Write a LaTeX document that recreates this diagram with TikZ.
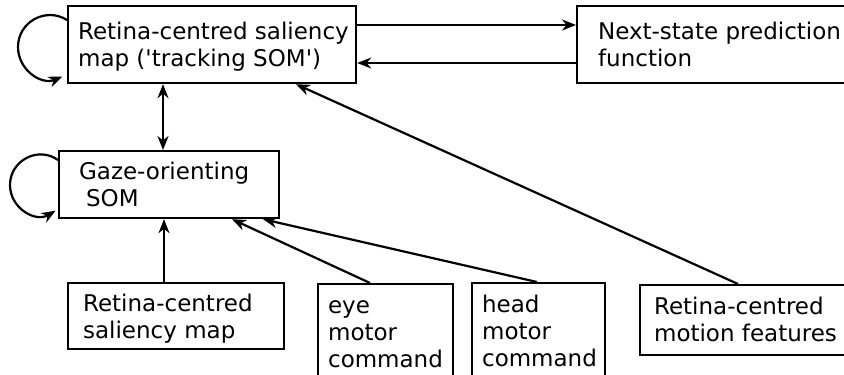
\documentclass[tikz,border=0pt]{standalone}
\usepackage{fontspec}
\setmainfont{DejaVu Sans}
\usetikzlibrary{arrows.meta,calc}

% left-aligned block of lines: box width, left inset, extra height above the first line, lines
\newcommand\lbltext[4]{\makebox[#1][l]{\hspace{#2}\begin{tabular}{@{}l@{}}\rule{0pt}{\dimexpr 18.9pt+#3\relax}#4\end{tabular}}}

\begin{document}
\begin{tikzpicture}[x=1pt,y=-1pt,
  box/.style={draw, line width=2.2pt, anchor=north west, inner sep=0pt,
    font=\fontsize{23pt}{27pt}\selectfont},
  >={Stealth[length=14pt,width=11pt,inset=4.5pt]},
  arr/.style={line width=2.2pt, ->},
  biarr/.style={line width=2.2pt, <->}]
\useasboundingbox (0,0) rectangle (844,375);
\fill[white] (0,0) rectangle (844,375);
\clip (0,0) rectangle (844,375);

% upper row
\node[box, minimum height=77pt] (sal) at (67,5)
  {\lbltext{288pt}{10pt}{6pt}{Retina-centred saliency\\map (\textquotesingle tracking SOM\textquotesingle)}};
\node[box, minimum height=77pt] (pred) at (576,5)
  {\lbltext{290pt}{21pt}{6pt}{Next-state prediction\\function}};

% gaze-orienting map
\node[box, minimum height=67pt] (gaze) at (58,150)
  {\lbltext{220pt}{20pt}{6pt}{Gaze-orienting\\\hspace*{7pt}SOM}};

% inputs along the bottom
\node[box, minimum height=66pt] (salmap) at (67,282)
  {\lbltext{216pt}{15pt}{7pt}{Retina-centred\\saliency map}};
\node[box, minimum height=97pt] (eye) at (317,283)
  {\lbltext{135pt}{10pt}{4pt}{eye\\motor\\command}};
\node[box, minimum height=97pt] (head) at (471,282)
  {\lbltext{133pt}{10pt}{4pt}{head\\motor\\command}};
\node[box, minimum height=70pt] (motion) at (639,284)
  {\lbltext{230pt}{14pt}{5pt}{Retina-centred\\motion features}};

% connections
\draw[arr] ($(sal.north east)+(0,20)$) -- ($(pred.north west)+(0,20)$);
\draw[arr] ($(pred.north west)+(0,58)$) -- ($(sal.north east)+(0,58)$);
\draw[biarr] ($(sal.south west)+(96,0)$) -- ($(gaze.north west)+(105,0)$);
\draw[arr] ($(salmap.north west)+(97,0)$) -- ($(gaze.south west)+(106,0)$);
\draw[arr] ($(eye.north west)+(53,0)$) -- ($(gaze.south west)+(174,0)$);
\draw[arr] ($(head.north west)+(66,0)$) -- ($(gaze.south west)+(205,0)$);
\draw[arr] ($(motion.north west)+(99,0)$) -- ($(sal.south west)+(229,0)$);

% recurrent self-connections: near-circular loops on the left sides
\draw[arr] ($(sal.north west)+(0,15)$)
  .. controls ($(sal.north west)+(-21.2,1.6)$) and ($(sal.north west)+(-49,16.9)$) .. ($(sal.north west)+(-49,42)$)
  .. controls ($(sal.north west)+(-49,64.9)$) and ($(sal.north west)+(-25.7,80.4)$) .. ($(sal.north west)+(-4.6,71.5)$);
\draw[arr] ($(gaze.north west)+(0,10)$)
  .. controls ($(gaze.north west)+(-19.9,-4.3)$) and ($(gaze.north west)+(-48,10.5)$) .. ($(gaze.north west)+(-48,35)$)
  .. controls ($(gaze.north west)+(-48,58.3)$) and ($(gaze.north west)+(-22.5,72.7)$) .. ($(gaze.north west)+(-2.5,60.7)$);
\end{tikzpicture}
\end{document}
